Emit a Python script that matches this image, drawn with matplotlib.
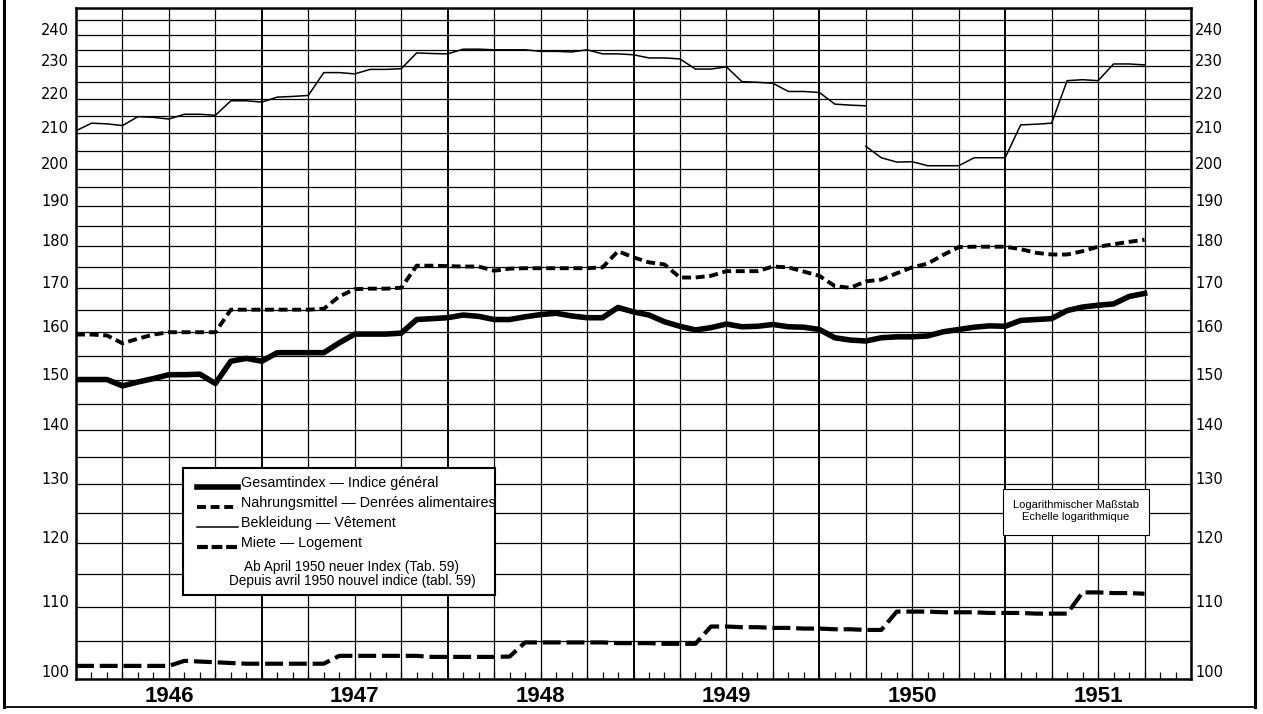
import matplotlib
matplotlib.use("Agg")
import matplotlib.pyplot as plt
import matplotlib.transforms as mtransforms
from matplotlib.lines import Line2D
from matplotlib.patches import Rectangle
import numpy as np

plt.rcParams['font.family'] = ['Liberation Sans', 'DejaVu Sans']

# Monatswerte, Index 0 = Januar 1946
gesamt = [150.0, 150.0, 150.0, 148.7, 149.5, 150.2, 151.0, 151.0, 151.1, 149.2,
          153.8, 154.4, 153.8, 155.6, 155.6, 155.6, 155.6, 157.7, 159.6, 159.6,
          159.6, 159.8, 162.8, 163.0, 163.2, 163.8, 163.5, 162.8, 162.8, 163.4,
          163.9, 164.2, 163.6, 163.2, 163.2, 165.5, 164.5, 163.8, 162.3, 161.3,
          160.5, 161.0, 161.8, 161.2, 161.3, 161.7, 161.2, 161.1, 160.6, 158.8,
          158.3, 158.1, 158.8, 159.0, 159.0, 159.2, 160.1, 160.6, 161.1, 161.4,
          161.3, 162.6, 162.8, 163.0, 164.8, 165.6, 166.0, 166.3, 168.0, 168.7]

nahrung = [159.5, 159.5, 159.3, 157.6, 158.6, 159.5, 160.0, 160.0, 160.0, 160.0,
           165.0, 165.0, 165.0, 165.0, 165.0, 165.0, 165.2, 168.0, 169.7, 169.8,
           169.8, 170.0, 175.2, 175.2, 175.1, 175.0, 175.0, 174.0, 174.5, 174.6,
           174.6, 174.6, 174.6, 174.6, 174.8, 178.7, 177.2, 176.0, 175.5, 172.4,
           172.4, 172.8, 173.9, 173.9, 173.9, 175.0, 174.8, 173.8, 172.8, 170.4,
           170.0, 171.5, 171.9, 173.4, 174.8, 175.7, 177.8, 179.7, 179.8, 179.8,
           179.8, 179.2, 178.3, 177.9, 177.9, 178.7, 179.8, 180.4, 181.0, 181.5]

# alter Index bis April 1950 (Monat 51), neuer Index ab April 1950
bekleidung_alt = [210.6, 212.8, 212.6, 212.1, 214.7, 214.5, 214.0, 215.4, 215.4, 215.1,
                  219.4, 219.4, 219.0, 220.5, 220.7, 221.0, 228.0, 228.0, 227.6, 229.0,
                  229.0, 229.2, 234.2, 234.0, 233.9, 235.4, 235.4, 235.2, 235.2, 235.2,
                  234.7, 234.7, 234.5, 235.2, 233.9, 233.9, 233.6, 232.6, 232.6, 232.3,
                  229.1, 229.1, 229.8, 225.2, 225.0, 224.7, 222.2, 222.2, 221.9, 218.4,
                  218.1, 217.9]
bekleidung_neu = [206.2, 203.0, 201.8, 201.9, 200.8, 200.8, 200.8, 203.0, 203.0, 203.0,
                  212.3, 212.5, 212.8, 225.5, 225.8, 225.5, 230.7, 230.7, 230.4]

miete = [101.5, 101.5, 101.5, 101.5, 101.5, 101.5, 101.5, 102.2, 102.1, 102.0,
         101.9, 101.8, 101.8, 101.8, 101.8, 101.8, 101.8, 102.9, 102.9, 102.9,
         102.9, 102.9, 102.9, 102.75, 102.75, 102.75, 102.75, 102.75, 102.8, 104.8,
         104.8, 104.8, 104.8, 104.8, 104.8, 104.7, 104.7, 104.7, 104.6, 104.6,
         104.6, 107.1, 107.1, 107.0, 107.0, 106.9, 106.9, 106.8, 106.8, 106.7,
         106.7, 106.6, 106.6, 109.3, 109.3, 109.3, 109.2, 109.2, 109.2, 109.1,
         109.1, 109.1, 109.0, 109.0, 109.0, 112.2, 112.2, 112.1, 112.1, 112.0]

years = ["1946", "1947", "1948", "1949", "1950", "1951"]
y_labels = [100, 110, 120, 130, 140, 150, 160, 170, 180, 190, 200, 210, 220, 230, 240]
y_grid = list(range(105, 250, 5))

legend_texts = ["Gesamtindex \u2014 Indice g\u00e9n\u00e9ral",
                "Nahrungsmittel \u2014 Denr\u00e9es alimentaires",
                "Bekleidung \u2014 V\u00eatement",
                "Miete \u2014 Logement"]
note_texts = ["Ab April 1950 neuer Index (Tab. 59)",
              "Depuis avril 1950 nouvel indice (tabl. 59)"]
scale_texts = ["Logarithmischer Ma\u00dfstab", "Echelle logarithmique"]

W, H = 1263, 714
fig = plt.figure(figsize=(W / 100, H / 100), dpi=100)
fig.patch.set_facecolor("white")


def fx(x):
    return x / W


def fy(y):
    return 1 - y / H


ax = fig.add_axes([fx(76), fy(679), 1115 / W, 671 / H])
ax.set_yscale("log")
ax.set_xlim(0, 72)
ax.set_ylim(99.7, 249)

# Raster
for v in y_grid:
    ax.axhline(v, color="black", lw=0.9, zorder=1)
for m in range(3, 72, 3):
    ax.axvline(m, color="black", lw=1.4 if m % 12 == 0 else 0.9, zorder=1)

months = np.arange(len(gesamt))
style = dict(color="black", zorder=3)
ax.plot(months, gesamt, lw=4.0, solid_joinstyle="round", **style)
ax.plot(months, nahrung, lw=2.8, dashes=(2.3, 1.2), dash_capstyle="butt", **style)
ax.plot(months[:len(bekleidung_alt)], bekleidung_alt, lw=1.1, **style)
ax.plot(months[len(bekleidung_alt) - 1:], bekleidung_neu, lw=1.1, **style)
ax.plot(months, miete, lw=3.0, dashes=(4.3, 1.4), dash_capstyle="butt", **style)

for s in ax.spines.values():
    s.set_linewidth(1.8)

ax.set_xticks(range(1, 72))
ax.tick_params(axis="x", direction="in", length=5, width=0.9, labelbottom=False)
ax.tick_params(axis="y", which="both", left=False, right=False,
               labelleft=False, labelright=False)

ylab = mtransforms.blended_transform_factory(ax.transAxes, ax.transData)
for v in y_labels:
    ax.text(-7 / 1115, v, str(v), transform=ylab, ha="right", va="baseline",
            fontsize=10.5, family=["DejaVu Sans"])
    ax.text(1 + 4 / 1115, v, str(v), transform=ylab, ha="left", va="baseline",
            fontsize=10.5, family=["DejaVu Sans"])

xlab = mtransforms.blended_transform_factory(ax.transData, ax.transAxes)
for i, yr in enumerate(years):
    ax.text(6 + 12 * i, -18 / 671, yr, transform=xlab, ha="center", va="center",
            fontsize=16, fontweight="bold")

# Legende
fig.add_artist(Rectangle((fx(183), fy(595)), fx(495) - fx(183), fy(468) - fy(595),
                         transform=fig.transFigure, facecolor="white",
                         edgecolor="black", lw=1.5, zorder=5))
handles = [dict(lw=4.0), dict(lw=2.8, dashes=(2.3, 1.2)), dict(lw=1.1),
           dict(lw=3.0, dashes=(2.6, 0.9))]
row_y = [487, 507, 527, 547]
for txt, hs, yy in zip(legend_texts, handles, row_y):
    fig.add_artist(Line2D([fx(197), fx(238)], [fy(yy), fy(yy)],
                          transform=fig.transFigure, color="black",
                          dash_capstyle="butt", zorder=6, **hs))
    fig.text(fx(241), fy(yy), txt, ha="left", va="baseline", fontsize=10.3, zorder=6)
for txt, yy in zip(note_texts, [571, 585]):
    fig.text(fx(352), fy(yy), txt, ha="center", va="baseline", fontsize=9.8,
             zorder=6)

# Massstab-Hinweis
fig.add_artist(Rectangle((fx(1003), fy(535)), fx(1149) - fx(1003), fy(489) - fy(535),
                         transform=fig.transFigure, facecolor="white",
                         edgecolor="black", lw=0.8, zorder=5))
for txt, yy in zip(scale_texts, [505, 517]):
    fig.text(fx(1076), fy(yy), txt, ha="center", va="center", fontsize=8, zorder=6)

# Rahmen
for xs, ys, lw in [([4, 4], [0, 707], 2.2), ([1255, 1255], [0, 707], 2.2),
                   ([4, 1255], [707, 707], 1.3)]:
    fig.add_artist(Line2D([fx(x) for x in xs], [fy(y) for y in ys],
                          transform=fig.transFigure, color="black", lw=lw))

fig.savefig("out.png", dpi=100)
